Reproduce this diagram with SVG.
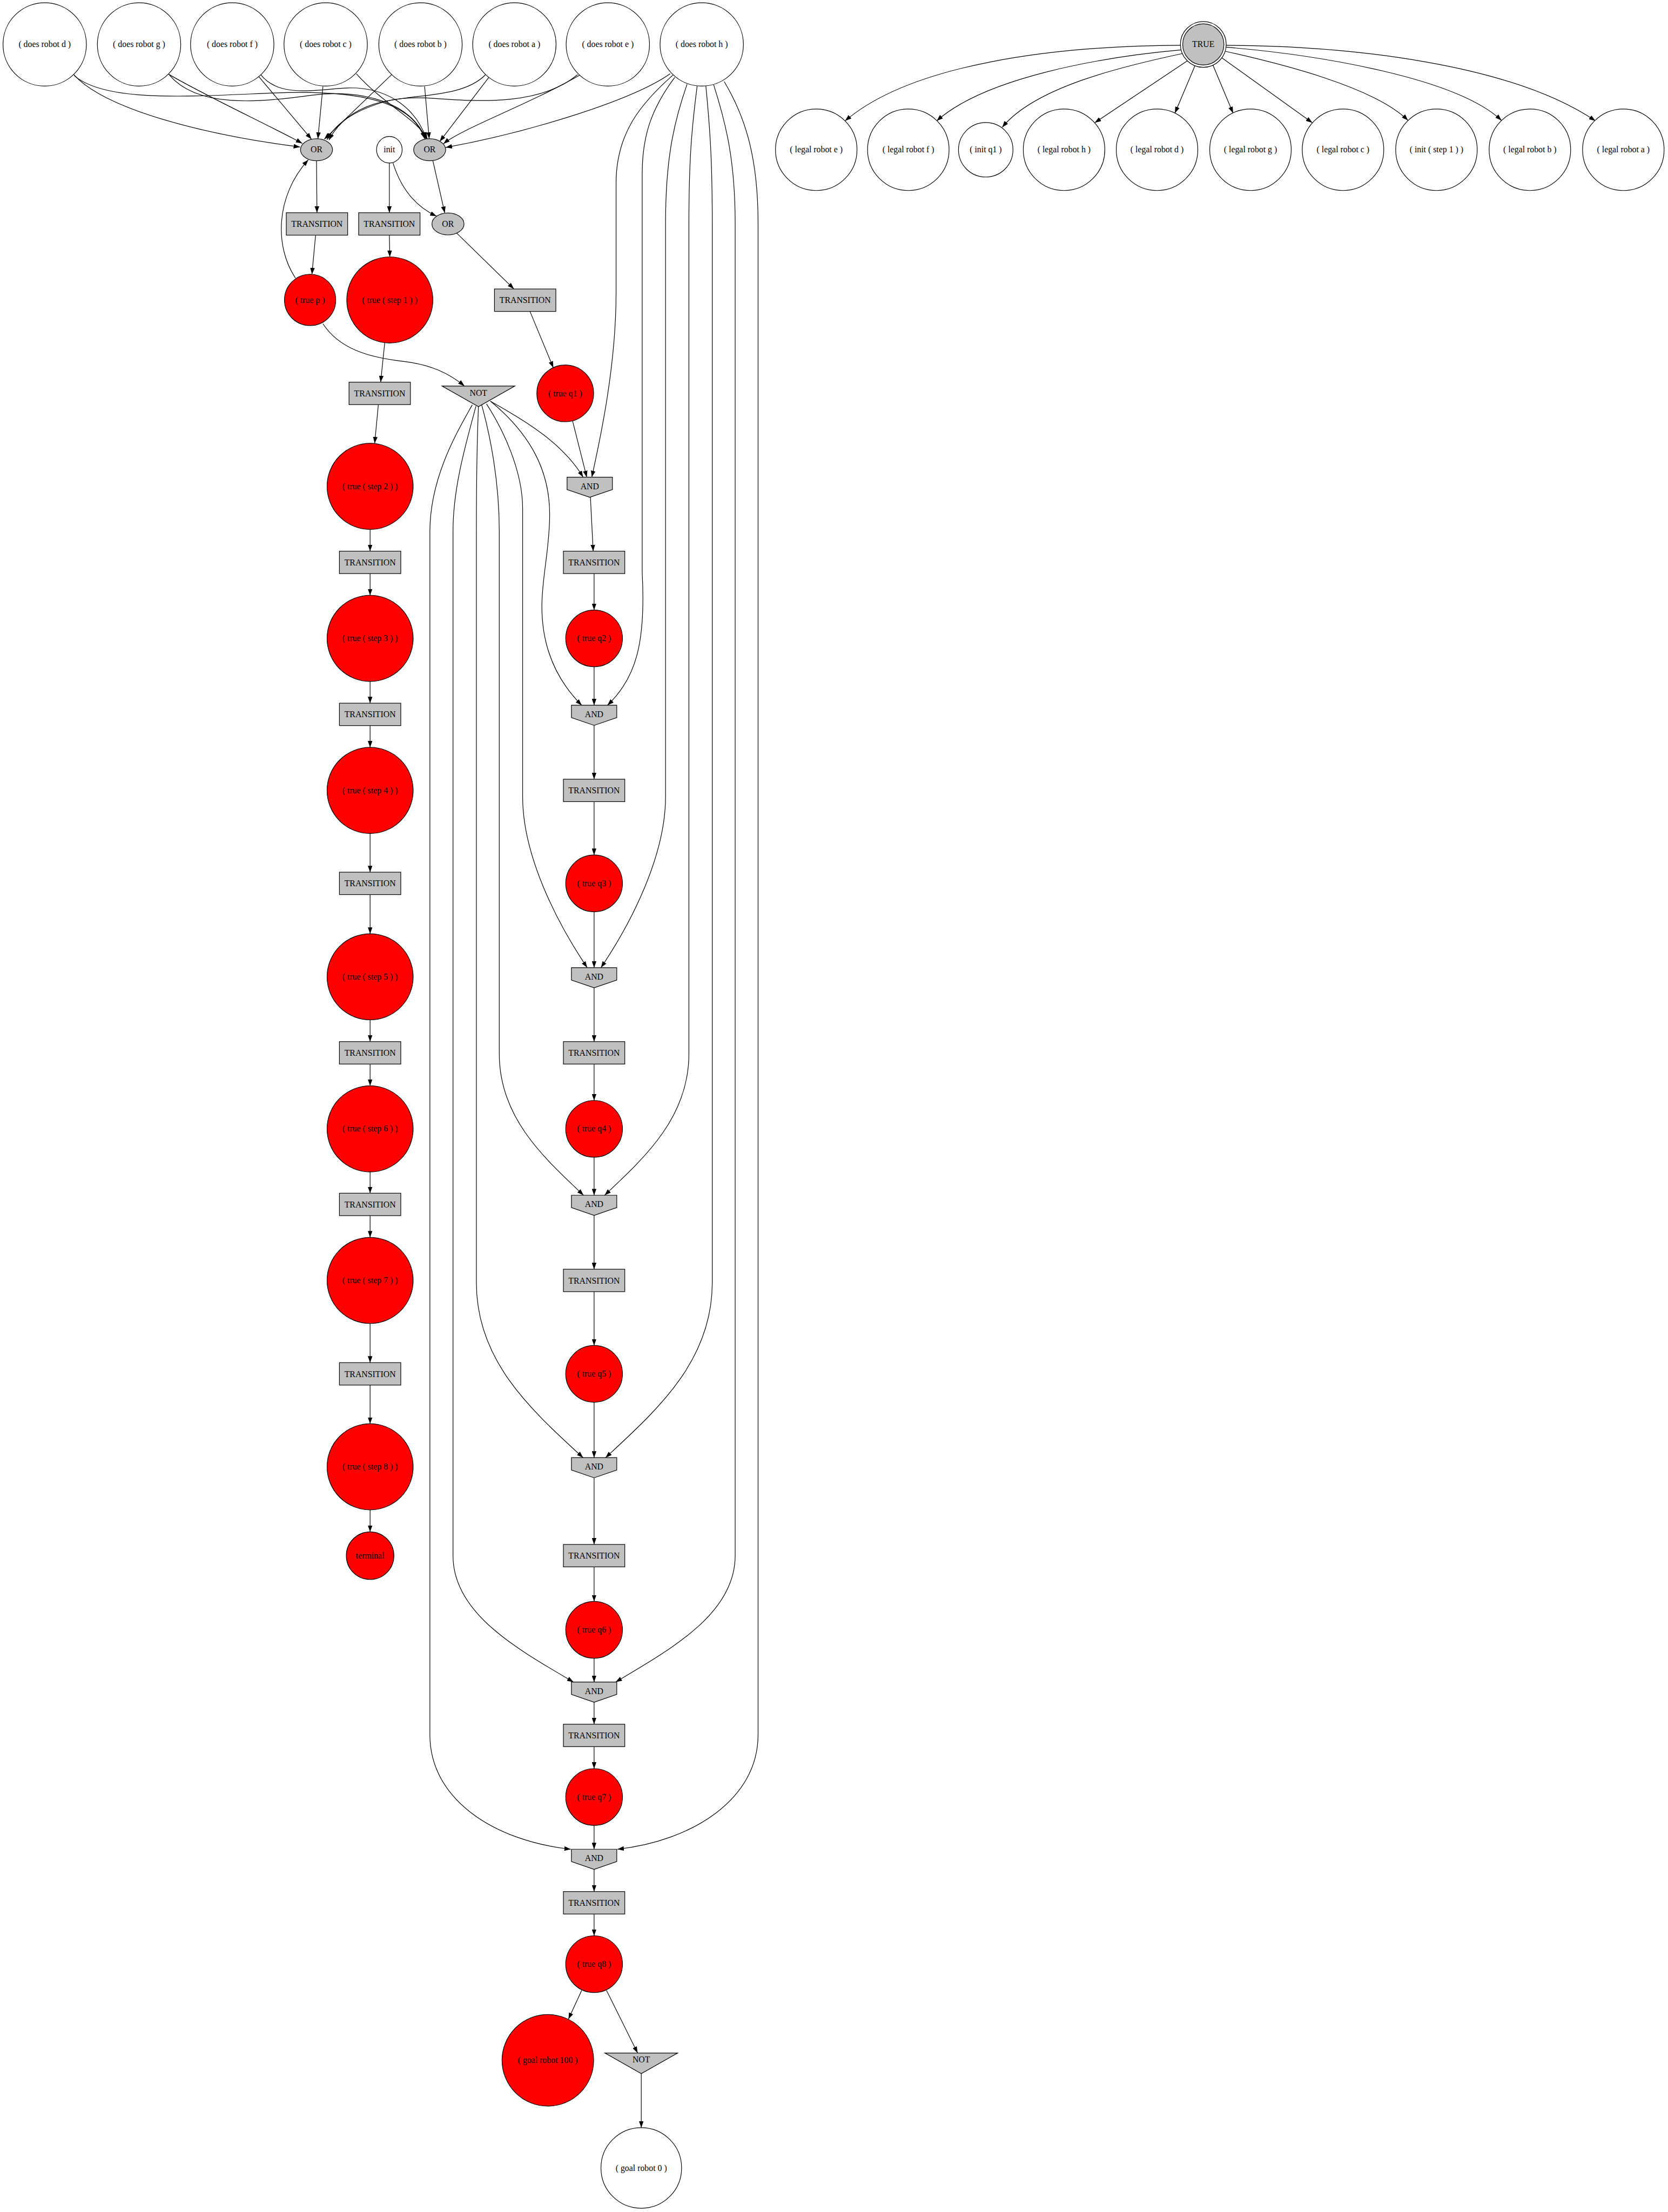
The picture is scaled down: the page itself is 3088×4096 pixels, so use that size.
<svg xmlns="http://www.w3.org/2000/svg" width="3088" height="4096" viewBox="0 0 3088 4096">
<defs>
<marker id="a" viewBox="0 0 14 10" refX="14" refY="5" markerWidth="14" markerHeight="10" markerUnits="userSpaceOnUse" orient="auto"><path d="M0,0 L14,5 L0,10 z" fill="#000"/></marker>
<style>
.e{fill:none;stroke:#000;stroke-width:1.4;marker-end:url(#a)}
.n{stroke:#000;stroke-width:1.4}
.w{fill:#fff}.r{fill:#ff0000}.g{fill:#c0c0c0}
text{font-family:'Liberation Serif','Times New Roman',serif;font-size:18.67px;text-anchor:middle;fill:#000}
</style>
</defs>
<rect width="3088" height="4096" fill="#fff"/>
<g transform="scale(0.848)">
<g id="edges">
<path class="e" d="M161,163 C230,240 450,295 655,321"/>
<path class="e" d="M368,162 C450,210 580,270 660,313"/>
<path class="e" d="M564,166 L680,304"/>
<path class="e" d="M705,189 L694,303"/>
<path class="e" d="M856,162 L708,304"/>
<path class="e" d="M1060,163 C1010,215 900,205 840,222 C780,240 735,265 714,305"/>
<path class="e" d="M1261,163 C1180,230 1050,222 950,215 C860,208 760,225 718,306"/>
<path class="e" d="M162,165 C230,225 420,210 600,203 C780,196 900,220 927,303"/>
<path class="e" d="M370,164 C430,235 560,225 680,208 C790,193 900,225 929,303"/>
<path class="e" d="M569,163 C610,215 690,195 760,192 C840,190 905,230 931,303"/>
<path class="e" d="M778,161 C840,230 910,260 933,303"/>
<path class="e" d="M927,189 L937,303"/>
<path class="e" d="M1068,168 L960,309"/>
<path class="e" d="M1266,164 C1150,230 1010,280 968,314"/>
<path class="e" d="M1463,161 C1380,220 1150,290 973,322"/>
<path class="e" d="M645,607 C600,540 600,430 673,349"/>
<path class="e" d="M691,351 L692,464.5"/>
<path class="e" d="M689,513.5 L681,599"/>
<path class="e" d="M850,356 L850,464.5"/>
<path class="e" d="M858,356 C875,410 905,450 953,472"/>
<path class="e" d="M945,351 L971,465"/>
<path class="e" d="M997,509 L1122,631"/>
<path class="e" d="M1157,680 L1208,803"/>
<path class="e" d="M1250,919 L1281,1042"/>
<path class="e" d="M705,707 C740,760 800,780 880,789 C940,796 980,815 1014,843"/>
<path class="e" d="M850,513.5 L851,561"/>
<path class="e" d="M840,748 L831,834.5"/>
<path class="e" d="M826,883.5 L818,968"/>
<path class="e" d="M808,1156 L808,1203.5"/>
<path class="e" d="M808,1252.5 L808,1300"/>
<path class="e" d="M808,1488 L808,1535.5"/>
<path class="e" d="M808,1584.5 L808,1632"/>
<path class="e" d="M808,1820 L808,1904.5"/>
<path class="e" d="M808,1953.5 L808,2039"/>
<path class="e" d="M808,2227 L808,2274.5"/>
<path class="e" d="M808,2323.5 L808,2371"/>
<path class="e" d="M808,2559 L808,2605.5"/>
<path class="e" d="M808,2654.5 L808,2702"/>
<path class="e" d="M808,2890 L808,2975.5"/>
<path class="e" d="M808,3024.5 L808,3109"/>
<path class="e" d="M808,3297 L808,3345"/>
<path class="e" d="M1289,1086 L1295,1203.5"/>
<path class="e" d="M1297,1252.5 L1297,1332"/>
<path class="e" d="M1297,1456 L1297,1540"/>
<path class="e" d="M1297,1584 L1297,1701.5"/>
<path class="e" d="M1297,1750.5 L1297,1867"/>
<path class="e" d="M1297,1991 L1297,2113"/>
<path class="e" d="M1297,2157 L1297,2274.5"/>
<path class="e" d="M1297,2323.5 L1297,2403"/>
<path class="e" d="M1297,2527 L1297,2610"/>
<path class="e" d="M1297,2654 L1297,2771.5"/>
<path class="e" d="M1297,2820.5 L1297,2938"/>
<path class="e" d="M1297,3062 L1297,3183"/>
<path class="e" d="M1297,3227 L1297,3372.5"/>
<path class="e" d="M1297,3421.5 L1297,3497"/>
<path class="e" d="M1297,3621 L1297,3673"/>
<path class="e" d="M1297,3717 L1297,3765"/>
<path class="e" d="M1297,3814 L1297,3862"/>
<path class="e" d="M1297,3986 L1297,4038"/>
<path class="e" d="M1297,4082 L1297,4130.5"/>
<path class="e" d="M1297,4179.5 L1297,4227"/>
<path class="e" d="M1270,4346 L1241,4409"/>
<path class="e" d="M1324,4346 L1392,4483"/>
<path class="e" d="M1400,4528 L1400,4646"/>
<path class="e" d="M1070,876 C1150,920 1230,970 1273,1042"/>
<path class="e" d="M1072,877 C1160,950 1200,1030 1200,1123 C1200,1200 1183,1260 1183,1324 C1183,1420 1220,1490 1270,1540"/>
<path class="e" d="M1062,882 C1100,940 1141,1030 1141,1110 L1141,1740 C1141,1867 1214,2012 1282,2113"/>
<path class="e" d="M1051.5,884 C1070,950 1090,1050 1090,1160 L1090,2301 C1090,2440 1186,2527 1274,2610"/>
<path class="e" d="M1044.5,888 C1042,950 1040,1050 1040,1160 L1040,2801 C1040,2973 1161,3080 1273,3183"/>
<path class="e" d="M1039,887 C1020,960 989,1060 989,1160 L989,3397 C989,3522 1126,3599 1252,3673"/>
<path class="e" d="M1031,884 C1000,940 939,1040 938.5,1160 L938.5,3788 C938.5,3930 1080,4020 1246,4038"/>
<path class="e" d="M1469,164 C1400,225 1345,290 1345,400 L1345,640 C1345,800 1310,960 1292,1042"/>
<path class="e" d="M1473,169 C1420,240 1402,300 1402,380 L1402,1250 C1410,1400 1390,1480 1326,1540"/>
<path class="e" d="M1500,184 C1470,270 1453,350 1453,488 L1453,1740 C1453,1867 1380,2012 1312,2113"/>
<path class="e" d="M1522,188 C1510,280 1504,350 1504,488 L1504,2301 C1504,2440 1408,2527 1320,2610"/>
<path class="e" d="M1541,188 C1550,280 1555,350 1555,488 L1555,2801 C1555,2973 1433,3080 1322,3183"/>
<path class="e" d="M1558,185 C1585,270 1605,350 1605,488 L1605,3397 C1605,3522 1469,3599 1344,3673"/>
<path class="e" d="M1581,178 C1630,260 1655,350 1655,488 L1655,3788 C1655,3930 1510,4020 1348,4038"/>
<path class="e" d="M2577,99 C2300,100 1990,140 1845,264"/>
<path class="e" d="M2578.5,109 C2400,125 2150,170 2045,264"/>
<path class="e" d="M2581,117 C2450,145 2260,190 2188,278"/>
<path class="e" d="M2592,133 L2390,268"/>
<path class="e" d="M2609,143 L2565,247"/>
<path class="e" d="M2648,142 L2692,247"/>
<path class="e" d="M2667,126 L2865,268"/>
<path class="e" d="M2675,112 C2800,140 3000,190 3074,263"/>
<path class="e" d="M2677,103 C2880,120 3180,170 3278,263"/>
<path class="e" d="M2677,99 C2950,100 3300,140 3483,264"/>
</g>
<g id="does_d"><circle class="n w" cx="97.6" cy="97" r="91"/><text x="97.6" y="103">( does robot d )</text></g>
<g id="does_g"><circle class="n w" cx="303.6" cy="97" r="91"/><text x="303.6" y="103">( does robot g )</text></g>
<g id="does_f"><circle class="n w" cx="507" cy="97" r="91"/><text x="507" y="103">( does robot f )</text></g>
<g id="does_c"><circle class="n w" cx="711" cy="97" r="91"/><text x="711" y="103">( does robot c )</text></g>
<g id="does_b"><circle class="n w" cx="918" cy="97" r="91"/><text x="918" y="103">( does robot b )</text></g>
<g id="does_a"><circle class="n w" cx="1123" cy="97" r="91"/><text x="1123" y="103">( does robot a )</text></g>
<g id="does_e"><circle class="n w" cx="1327" cy="97" r="91"/><text x="1327" y="103">( does robot e )</text></g>
<g id="does_h"><circle class="n w" cx="1532" cy="97" r="91"/><text x="1532" y="103">( does robot h )</text></g>
<g id="true_node"><circle class="n" fill="none" cx="2627" cy="97" r="50"/><circle class="n g" cx="2627" cy="97" r="45"/><text x="2627" y="103">TRUE</text></g>
<g id="legal_e"><circle class="n w" cx="1782" cy="327" r="89"/><text x="1782" y="333">( legal robot e )</text></g>
<g id="legal_f"><circle class="n w" cx="1983" cy="327" r="89"/><text x="1983" y="333">( legal robot f )</text></g>
<g id="init_q1"><circle class="n w" cx="2152" cy="327" r="59.5"/><text x="2152" y="333">( init q1 )</text></g>
<g id="legal_h"><circle class="n w" cx="2323" cy="327" r="89"/><text x="2323" y="333">( legal robot h )</text></g>
<g id="legal_d"><circle class="n w" cx="2526" cy="327" r="89"/><text x="2526" y="333">( legal robot d )</text></g>
<g id="legal_g"><circle class="n w" cx="2730" cy="327" r="89"/><text x="2730" y="333">( legal robot g )</text></g>
<g id="legal_c"><circle class="n w" cx="2932" cy="327" r="89"/><text x="2932" y="333">( legal robot c )</text></g>
<g id="init_step1"><circle class="n w" cx="3136" cy="327" r="89"/><text x="3136" y="333">( init ( step 1 ) )</text></g>
<g id="legal_b"><circle class="n w" cx="3340" cy="327" r="89"/><text x="3340" y="333">( legal robot b )</text></g>
<g id="legal_a"><circle class="n w" cx="3544" cy="327" r="89"/><text x="3544" y="333">( legal robot a )</text></g>
<g id="or1"><ellipse class="n g" cx="691" cy="327" rx="35" ry="24"/><text x="691" y="333">OR</text></g>
<g id="init"><ellipse class="n w" cx="850" cy="327" rx="28" ry="29"/><text x="850" y="333">init</text></g>
<g id="or2"><ellipse class="n g" cx="938" cy="327" rx="35" ry="24"/><text x="938" y="333">OR</text></g>
<g id="or3"><ellipse class="n g" cx="978" cy="489" rx="35" ry="24"/><text x="978" y="495">OR</text></g>
<g id="t1"><rect class="n g" x="625" y="464.5" width="134" height="49"/><text x="692" y="495.5">TRANSITION</text></g>
<g id="t2"><rect class="n g" x="783" y="464.5" width="134" height="49"/><text x="850" y="495.5">TRANSITION</text></g>
<g id="t3"><rect class="n g" x="1079.5" y="631" width="134" height="49"/><text x="1146.5" y="662">TRANSITION</text></g>
<g id="t4"><rect class="n g" x="762" y="834.5" width="134" height="49"/><text x="829" y="865.5">TRANSITION</text></g>
<g id="t5"><rect class="n g" x="741" y="1203.5" width="134" height="49"/><text x="808" y="1234.5">TRANSITION</text></g>
<g id="t6"><rect class="n g" x="1230" y="1203.5" width="134" height="49"/><text x="1297" y="1234.5">TRANSITION</text></g>
<g id="t7"><rect class="n g" x="741" y="1535.5" width="134" height="49"/><text x="808" y="1566.5">TRANSITION</text></g>
<g id="t8"><rect class="n g" x="1230" y="1701.5" width="134" height="49"/><text x="1297" y="1732.5">TRANSITION</text></g>
<g id="t9"><rect class="n g" x="741" y="1904.5" width="134" height="49"/><text x="808" y="1935.5">TRANSITION</text></g>
<g id="t10"><rect class="n g" x="1230" y="2274.5" width="134" height="49"/><text x="1297" y="2305.5">TRANSITION</text></g>
<g id="t11"><rect class="n g" x="741" y="2274.5" width="134" height="49"/><text x="808" y="2305.5">TRANSITION</text></g>
<g id="t12"><rect class="n g" x="1230" y="2771.5" width="134" height="49"/><text x="1297" y="2802.5">TRANSITION</text></g>
<g id="t13"><rect class="n g" x="741" y="2605.5" width="134" height="49"/><text x="808" y="2636.5">TRANSITION</text></g>
<g id="t14"><rect class="n g" x="1230" y="3372.5" width="134" height="49"/><text x="1297" y="3403.5">TRANSITION</text></g>
<g id="t15"><rect class="n g" x="741" y="2975.5" width="134" height="49"/><text x="808" y="3006.5">TRANSITION</text></g>
<g id="t16"><rect class="n g" x="1230" y="3765" width="134" height="49"/><text x="1297" y="3796">TRANSITION</text></g>
<g id="t17"><rect class="n g" x="1230" y="4130.5" width="134" height="49"/><text x="1297" y="4161.5">TRANSITION</text></g>
<g id="true_p"><circle class="n r" cx="677" cy="655" r="56"/><text x="677" y="661">( true p )</text></g>
<g id="step1"><circle class="n r" cx="851" cy="655" r="94"/><text x="851" y="661">( true ( step 1 ) )</text></g>
<g id="step2"><circle class="n r" cx="808" cy="1062" r="94"/><text x="808" y="1068">( true ( step 2 ) )</text></g>
<g id="step3"><circle class="n r" cx="808" cy="1394" r="94"/><text x="808" y="1400">( true ( step 3 ) )</text></g>
<g id="step4"><circle class="n r" cx="808" cy="1726" r="94"/><text x="808" y="1732">( true ( step 4 ) )</text></g>
<g id="step5"><circle class="n r" cx="808" cy="2133" r="94"/><text x="808" y="2139">( true ( step 5 ) )</text></g>
<g id="step6"><circle class="n r" cx="808" cy="2465" r="94"/><text x="808" y="2471">( true ( step 6 ) )</text></g>
<g id="step7"><circle class="n r" cx="808" cy="2796" r="94"/><text x="808" y="2802">( true ( step 7 ) )</text></g>
<g id="step8"><circle class="n r" cx="808" cy="3203" r="94"/><text x="808" y="3209">( true ( step 8 ) )</text></g>
<g id="terminal"><circle class="n r" cx="808" cy="3397" r="52"/><text x="808" y="3403">terminal</text></g>
<g id="not1"><polygon class="n g" points="965,843 1124,843 1044.5,888"/><text x="1044.5" y="864">NOT</text></g>
<g id="q1"><circle class="n r" cx="1234" cy="859" r="62"/><text x="1234" y="865">( true q1 )</text></g>
<g id="q2"><circle class="n r" cx="1297" cy="1394" r="62"/><text x="1297" y="1400">( true q2 )</text></g>
<g id="q3"><circle class="n r" cx="1297" cy="1929" r="62"/><text x="1297" y="1935">( true q3 )</text></g>
<g id="q4"><circle class="n r" cx="1297" cy="2465" r="62"/><text x="1297" y="2471">( true q4 )</text></g>
<g id="q5"><circle class="n r" cx="1297" cy="3000" r="62"/><text x="1297" y="3006">( true q5 )</text></g>
<g id="q6"><circle class="n r" cx="1297" cy="3559" r="62"/><text x="1297" y="3565">( true q6 )</text></g>
<g id="q7"><circle class="n r" cx="1297" cy="3924" r="62"/><text x="1297" y="3930">( true q7 )</text></g>
<g id="q8"><circle class="n r" cx="1297" cy="4289" r="62"/><text x="1297" y="4295">( true q8 )</text></g>
<g id="and1"><polygon class="n g" points="1238,1042 1337,1042 1337,1069 1287.5,1086 1238,1069"/><text x="1287.5" y="1068">AND</text></g>
<g id="and2"><polygon class="n g" points="1247.5,1540 1346.5,1540 1346.5,1567 1297,1584 1247.5,1567"/><text x="1297" y="1566">AND</text></g>
<g id="and3"><polygon class="n g" points="1247.5,2113 1346.5,2113 1346.5,2140 1297,2157 1247.5,2140"/><text x="1297" y="2139">AND</text></g>
<g id="and4"><polygon class="n g" points="1247.5,2610 1346.5,2610 1346.5,2637 1297,2654 1247.5,2637"/><text x="1297" y="2636">AND</text></g>
<g id="and5"><polygon class="n g" points="1247.5,3183 1346.5,3183 1346.5,3210 1297,3227 1247.5,3210"/><text x="1297" y="3209">AND</text></g>
<g id="and6"><polygon class="n g" points="1247.5,3673 1346.5,3673 1346.5,3700 1297,3717 1247.5,3700"/><text x="1297" y="3699">AND</text></g>
<g id="and7"><polygon class="n g" points="1247.5,4038 1346.5,4038 1346.5,4065 1297,4082 1247.5,4065"/><text x="1297" y="4064">AND</text></g>
<g id="goal100"><circle class="n r" cx="1196" cy="4499" r="100"/><text x="1196" y="4505">( goal robot 100 )</text></g>
<g id="not2"><polygon class="n g" points="1320.5,4483 1479.5,4483 1400,4528"/><text x="1400" y="4504">NOT</text></g>
<g id="goal0"><circle class="n w" cx="1400" cy="4734" r="88"/><text x="1400" y="4740">( goal robot 0 )</text></g>
</g>
</svg>
